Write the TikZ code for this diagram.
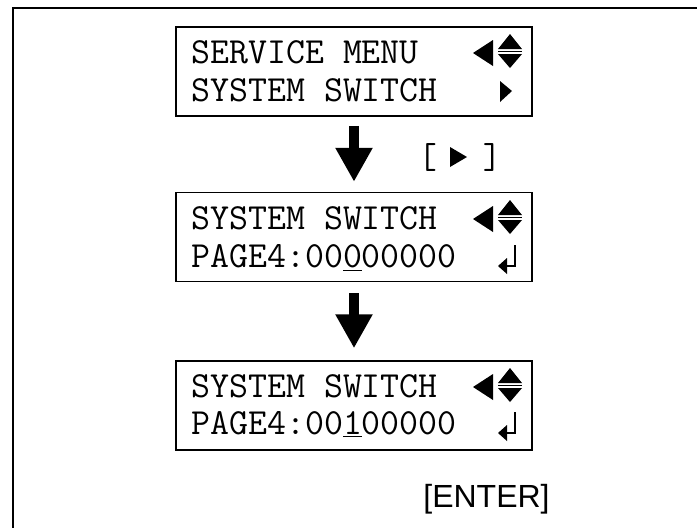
\documentclass[tikz,border=0pt]{standalone}
\usepackage{fontspec}
\newfontfamily\keyfont{Liberation Sans}
\usetikzlibrary{arrows.meta}

% panel symbols, drawn at the baseline of a text line
\newcommand{\lcdscroll}[1]{%
  \fill (493,#1-23) -- (473,#1-10) -- (493,#1+3) -- cycle;
  \fill (510,#1-29) -- (522,#1-14) -- (498,#1-14) -- cycle;
  \draw[line width=0.6pt] (498,#1-11.5) -- (522,#1-11.5);
  \fill (498,#1-9) -- (522,#1-9) -- (510,#1+5) -- cycle;}
\newcommand{\lcdright}[1]{%
  \fill (500,#1-20) -- (512,#1-10) -- (500,#1+1) -- cycle;}
\newcommand{\lcdreturn}[1]{%
  \draw[line width=1.1pt] (515,#1-22) -- (515,#1-1) -- (505,#1-1);
  \fill (498,#1-1) -- (507,#1-9) -- (507,#1+7) -- cycle;}

\begin{document}
\begin{tikzpicture}[x=0.5pt, y=-0.5pt,
        lcd/.style={draw, line width=0.75pt, minimum width=178pt,
                    minimum height=44.5pt, inner sep=0pt},
        lcdline/.style={font=\fontsize{18.4}{22}\selectfont\ttfamily,
                        anchor=base west, inner sep=0pt},
        bigarrow/.style={-{Triangle[width=17.5pt, length=17pt]},
                         line width=5pt},
      ]
        \useasboundingbox (0,0) rectangle (697,527);
        \clip (0,0) rectangle (697,527);
        \draw[line width=1pt] (13,560) |- (720,8);

        \node[lcd] (menu) at (354,71.5) {};
        \node[lcd] (swoff) at (354,237) {};
        \node[lcd] (swon) at (354,405.5) {};

        \node[lcdline] (menutop) at (191,63) {SERVICE MENU};
        \node[lcdline] (menubot) at (191,101) {SYSTEM SWITCH};
        \node[lcdline] (offtop) at (191,229) {SYSTEM SWITCH};
        \node[lcdline] (offbot) at (191,267) {PAGE4:00\underline{0}00000};
        \node[lcdline] (ontop) at (191,397) {SYSTEM SWITCH};
        \node[lcdline] (onbot) at (191,434) {PAGE4:00\underline{1}00000};

        \lcdscroll{63}
        \lcdright{101}
        \lcdscroll{229}
        \lcdreturn{267}
        \lcdscroll{397}
        \lcdreturn{434}

        \draw[bigarrow] ([yshift=-4.5pt]menu.south) -- ([yshift=5pt]swoff.north);
        \draw[bigarrow] ([yshift=-5.5pt]swoff.south) -- ([yshift=6pt]swon.north);

        \node[font=\fontsize{18}{20}\selectfont\ttfamily, inner sep=0pt]
              (rightkey) at (460,157) {[\hspace{23pt}]};
        \fill (450,147) -- (467,157) -- (450,167) -- cycle;

        \node[font=\fontsize{16}{18}\selectfont\keyfont, anchor=base,
              inner sep=0pt] (enterkey) at (486.5,507) {[ENTER]};
      \end{tikzpicture}
\end{document}
